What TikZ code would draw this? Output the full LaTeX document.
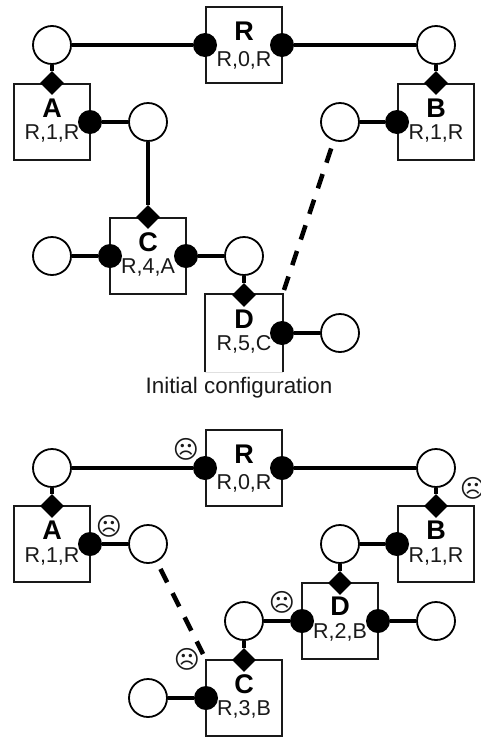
\documentclass[tikz,border=0pt]{standalone}
\usepackage{fontspec}
\setmainfont{Liberation Sans}
\newfontfamily\symfont{DejaVu Sans}
\usetikzlibrary{shapes.geometric}
\tikzset{
  boxn/.style={draw=black!90,line width=2pt,minimum width=76pt,minimum height=76pt,inner sep=0pt},
  openbox/.style={boxn,draw=none},
  port/.style={circle,draw=black,line width=1.8pt,fill=white,minimum size=38pt,inner sep=0pt},
  dot/.style={circle,fill=black,minimum size=24pt,inner sep=0pt},
  dia/.style={diamond,aspect=1,fill=black,minimum size=24pt,inner sep=0pt},
  lk/.style={line width=4.5pt,black},
  dlk/.style={line width=4.5pt,black,dash pattern=on 15pt off 12pt,dash phase=19pt},
  ttl/.style={font=\fontsize{27}{27}\selectfont\bfseries,text=black,inner sep=0pt},
  sub/.style={font=\fontsize{21.5}{22}\selectfont,text=black!90,inner sep=0pt},
  capt/.style={font=\fontsize{22.4}{23}\selectfont,text=black!90,inner sep=0pt},
  sad/.style={font=\symfont\fontsize{25}{25}\selectfont,text=black!90,inner sep=0pt}
}
\begin{document}
\begin{tikzpicture}[x=1pt,y=-1pt]
\useasboundingbox (0,0) rectangle (480,737);
% top
\node[boxn] (r1) at (244,45) {};
\node[boxn] (a1) at (52,122) {};
\node[boxn] (b1) at (436,122) {};
\node[boxn] (c1) at (148,256) {};
\node[openbox] (d1) at (244,333) {};
\draw[black!12,line width=1pt] (d1.south west) -- (d1.south east);
\draw[black!90,line width=2pt] (d1.south west) -- (d1.north west) -- (d1.north east) -- (d1.south east);
\node[port] (p1) at (52,45) {};
\node[port] (p2) at (436,45) {};
\node[port] (p3) at (148,122) {};
\node[port] (p4) at (340,122) {};
\node[port] (p5) at (52,256) {};
\node[port] (p6) at (244,256) {};
\node[port] (p7) at (340,333) {};
\node[dot] (rl1) at (205,45) {};
\node[dot] (rr1) at (282,45) {};
\node[dot] (ar1) at (90,122) {};
\node[dot] (bl1) at (397,122) {};
\node[dot] (cl1) at (110,256) {};
\node[dot] (cr1) at (186,256) {};
\node[dot] (dr1) at (282,333) {};
\node[dia] (ad1) at (52,83) {};
\node[dia] (bd1) at (436,83) {};
\node[dia] (cd1) at (148,217) {};
\node[dia] (dd1) at (244,295) {};
\coordinate (de1) at (284,290);
\draw[lk] (p1) -- (rl1);
\draw[lk] (rr1) -- (p2);
\draw[lk] (p1) -- (ad1);
\draw[lk] (p2) -- (bd1);
\draw[lk] (ar1) -- (p3);
\draw[lk] (p3) -- (cd1);
\draw[lk] (bl1) -- (p4);
\draw[lk] (p5) -- (cl1);
\draw[lk] (cr1) -- (p6);
\draw[lk] (p6) -- (dd1);
\draw[lk] (dr1) -- (p7);
\draw[dlk] (p4) -- (de1);
\node[ttl] (rt1) at (244,31) {R};
\node[sub] (rs1) at (244,60) {R,0,R};
\node[ttl] (at1) at (52,108) {A};
\node[sub] (as1) at (52,133) {R,1,R};
\node[ttl] (bt1) at (436,108) {B};
\node[sub] (bs1) at (436,133) {R,1,R};
\node[ttl] (ct1) at (148,242) {C};
\node[sub] (cs1) at (148,267) {R,4,A};
\node[ttl] (dt1) at (244,319) {D};
\node[sub] (ds1) at (244,344) {R,5,C};
\node[capt] (cap1) at (239,388) {Initial configuration};
% bottom
\node[boxn] (r2) at (244,468) {};
\node[boxn] (a2) at (52,544) {};
\node[boxn] (b2) at (436,544) {};
\node[boxn] (d2) at (340,621) {};
\node[boxn] (c2) at (244,698) {};
\node[port] (q1) at (52,468) {};
\node[port] (q2) at (436,468) {};
\node[port] (q3) at (148,544) {};
\node[port] (q4) at (340,544) {};
\node[port] (q5) at (244,621) {};
\node[port] (q6) at (436,621) {};
\node[port] (q7) at (148,698) {};
\node[dot] (rl2) at (205,468) {};
\node[dot] (rr2) at (282,468) {};
\node[dot] (ar2) at (90,544) {};
\node[dot] (bl2) at (397,544) {};
\node[dot] (dl2) at (302,621) {};
\node[dot] (dr2) at (378,621) {};
\node[dot] (cl2) at (206,698) {};
\node[dia] (ad2) at (52,506) {};
\node[dia] (bd2) at (436,506) {};
\node[dia] (dd2) at (340,583) {};
\node[dia] (cd2) at (244,660) {};
\coordinate (de2) at (203,654);
\draw[lk] (q1) -- (rl2);
\draw[lk] (rr2) -- (q2);
\draw[lk] (q1) -- (ad2);
\draw[lk] (q2) -- (bd2);
\draw[lk] (ar2) -- (q3);
\draw[lk] (bl2) -- (q4);
\draw[lk] (q4) -- (dd2);
\draw[lk] (q5) -- (dl2);
\draw[lk] (dr2) -- (q6);
\draw[lk] (q5) -- (cd2);
\draw[lk] (q7) -- (cl2);
\draw[dlk] (q3) -- (de2);
\node[ttl] (rt2) at (244,454) {R};
\node[sub] (rs2) at (244,483) {R,0,R};
\node[ttl] (at2) at (52,530) {A};
\node[sub] (as2) at (52,556) {R,1,R};
\node[ttl] (bt2) at (436,530) {B};
\node[sub] (bs2) at (436,556) {R,1,R};
\node[ttl] (dt2) at (340,606) {D};
\node[sub] (ds2) at (340,632) {R,2,B};
\node[ttl] (ct2) at (244,684) {C};
\node[sub] (cs2) at (244,709) {R,3,B};
\node[sad] (s1) at (186,449) {☹};
\node[sad] (s2) at (109,526) {☹};
\node[sad] (s3) at (473,488) {☹};
\node[sad] (s4) at (282,602) {☹};
\node[sad] (s5) at (187,659) {☹};
\end{tikzpicture}
\end{document}
